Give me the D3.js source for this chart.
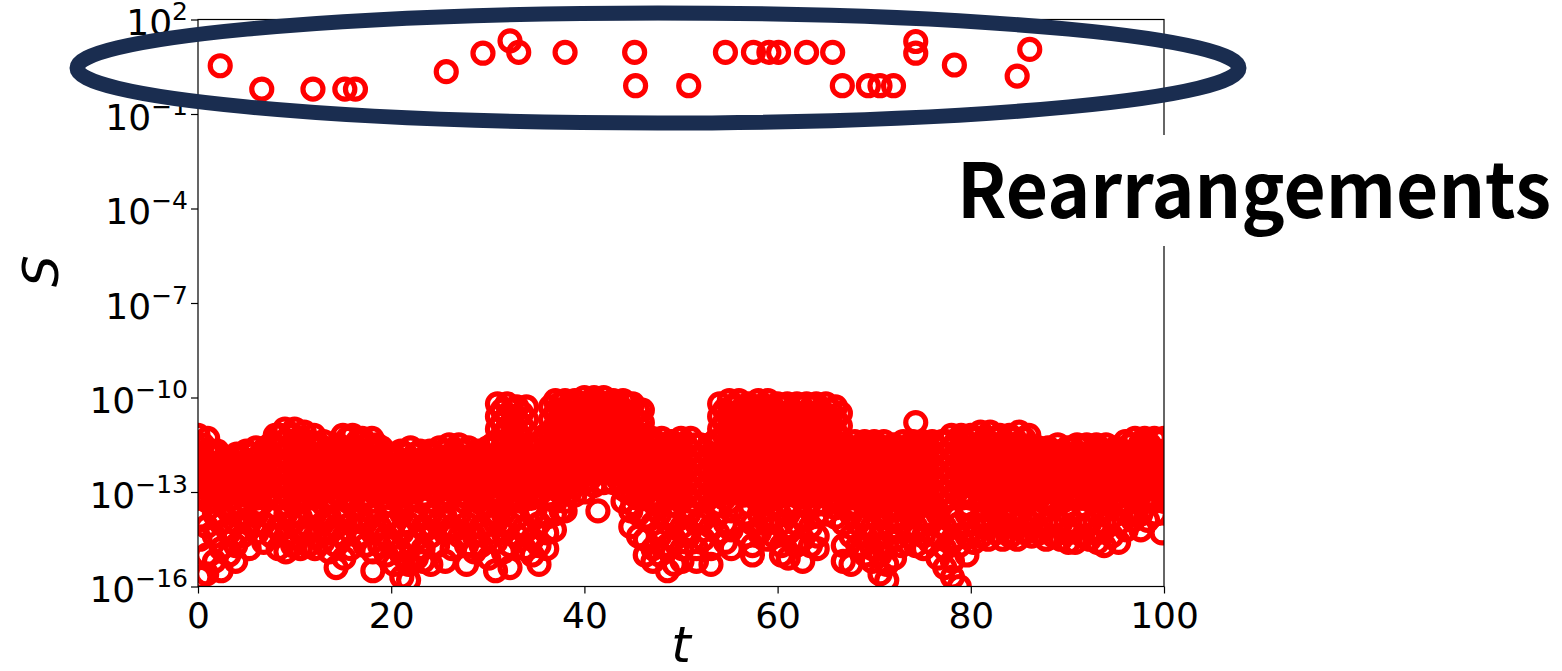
<!DOCTYPE html>
<html>
<head>
<meta charset="utf-8">
<script src="https://cdn.jsdelivr.net/npm/d3@7"></script>
<style>
  html, body { margin: 0; padding: 0; background: #fff; }
  svg { display: block; }
</style>
</head>
<body>
<svg id="chart" width="1562" height="671"></svg>
<script>
// ---------------- DATA ----------------
const xTicks = [0, 20, 40, 60, 80, 100];
const yTickExponents = [2, -1, -4, -7, -10, -13, -16];

// Rearrangement events (large S values)
const rearrT = [2.3, 6.6, 11.9, 15.2, 16.3, 25.7, 29.5, 32.3, 33.2, 38.0, 45.2, 45.3, 50.8,
                54.6, 57.5, 59.1, 60.1, 63.0, 65.7, 66.7, 69.4, 70.6, 72.0, 74.3, 74.3, 78.3, 84.8, 86.1];
const rearrS = [3.4, 0.62, 0.62, 0.62, 0.62, 2.2, 8.5, 21, 9.1, 9.1, 9.1, 0.79, 0.79,
                9.1, 9.1, 9.1, 9.1, 9.1, 9.1, 0.79, 0.79, 0.79, 0.79, 20, 8.5, 3.6, 1.6, 11.2];

// Isolated small-S points
const isolatedT = [74.3, 41.4];
const isolatedS = [1.6e-11, 2.5e-14];

// Dense cloud, upper part: [t, "n1 n2 ..."] where each S = 10^(-n)
const denseUpper = [
[0,"11.2 11.6 12.0 12.4 12.8 13.2"],[0.5,"11.5 11.9 12.3 12.7 13.1"],
[1,"11.3 11.7 12.1 12.5 12.9 13.3"],[1.5,"11.7 12.1 12.5 12.9 13.3"],
[2,"11.7 12.1 12.5 12.9 13.3"],[2.5,"12.0 12.4 12.8 13.2"],
[3,"11.9 12.3 12.7 13.1"],[3.5,"12.0 12.4 12.8 13.2"],
[4,"11.8 12.2 12.6 13.0 13.4"],[4.5,"11.9 12.3 12.7 13.1"],
[5,"11.7 12.1 12.5 12.9 13.3"],[5.5,"11.8 12.2 12.6 13.0"],
[6,"11.6 12.0 12.4 12.8 13.2"],[6.5,"11.8 12.2 12.6 13.0 13.4"],
[7,"11.6 12.0 12.4 12.8 13.2"],[7.5,"11.5 11.9 12.3 12.7 13.1"],
[8,"11.2 11.6 12.0 12.4 12.8 13.2"],[8.5,"11.2 11.6 12.0 12.4 12.8 13.2"],
[9,"11.0 11.4 11.8 12.2 12.6 13.0 13.4"],[9.5,"11.2 11.6 12.0 12.4 12.8 13.2"],
[10,"11.0 11.4 11.8 12.2 12.6 13.0 13.4"],[10.5,"11.3 11.7 12.1 12.5 12.9 13.3"],
[11,"11.1 11.5 11.9 12.3 12.7 13.1"],[11.5,"11.4 11.8 12.2 12.6 13.0"],
[12,"11.2 11.6 12.0 12.4 12.8 13.2"],[12.5,"11.5 11.9 12.3 12.7 13.1"],
[13,"11.4 11.8 12.2 12.6 13.0 13.4"],[13.5,"11.7 12.1 12.5 12.9 13.3"],
[14,"11.6 12.0 12.4 12.8 13.2"],[14.5,"11.5 11.9 12.3 12.7 13.1"],
[15,"11.2 11.6 12.0 12.4 12.8 13.2"],[15.5,"11.3 11.7 12.1 12.5 12.9 13.3"],
[16,"11.2 11.6 12.0 12.4 12.8 13.2"],[16.5,"11.4 11.8 12.2 12.6 13.0"],
[17,"11.3 11.7 12.1 12.5 12.9 13.3"],[17.5,"11.5 11.9 12.3 12.7 13.1"],
[18,"11.3 11.7 12.1 12.5 12.9 13.3"],[18.5,"11.5 11.9 12.3 12.7 13.1"],
[19,"11.6 12.0 12.4 12.8 13.2"],[19.5,"11.8 12.2 12.6 13.0 13.4"],
[20,"11.8 12.2 12.6 13.0 13.4"],[20.5,"11.9 12.3 12.7 13.1"],
[21,"11.7 12.1 12.5 12.9 13.3"],[21.5,"11.8 12.2 12.6 13.0"],
[22,"11.6 12.0 12.4 12.8 13.2"],[22.5,"11.8 12.2 12.6 13.0"],
[23,"11.7 12.1 12.5 12.9 13.3"],[23.5,"11.9 12.3 12.7 13.1"],
[24,"11.7 12.1 12.5 12.9 13.3"],[24.5,"11.8 12.2 12.6 13.0"],
[25,"11.6 12.0 12.4 12.8 13.2"],[25.5,"11.7 12.1 12.5 12.9 13.3"],
[26,"11.5 11.9 12.3 12.7 13.1"],[26.5,"11.7 12.1 12.5 12.9"],
[27,"11.5 11.9 12.3 12.7 13.1"],[27.5,"11.7 12.1 12.5 12.9 13.3"],
[28,"11.6 12.0 12.4 12.8 13.2"],[28.5,"11.8 12.2 12.6 13.0"],
[29,"11.7 12.1 12.5 12.9 13.3"],[29.5,"11.8 12.2 12.6 13.0 13.4"],
[30,"11.6 12.0 12.4 12.8 13.2"],[30.5,"11.5 11.9 12.3 12.7 13.1"],
[31,"10.2 10.6 11.0 11.4 11.8 12.2 12.6 13.0 13.4"],[31.5,"10.4 10.8 11.2 11.6 12.0 12.4 12.8 13.2"],
[32,"10.2 10.6 11.0 11.4 11.8 12.2 12.6 13.0 13.4"],[32.5,"10.4 10.8 11.2 11.6 12.0 12.4 12.8 13.2"],
[33,"10.3 10.7 11.1 11.5 11.9 12.3 12.7 13.1"],[33.5,"10.5 10.9 11.3 11.7 12.1 12.5 12.9 13.3"],
[34,"10.3 10.7 11.1 11.5 11.9 12.3 12.7 13.1"],[34.5,"11.6 12.0 12.4 12.8 13.2"],
[35,"11.5 11.9 12.3 12.7 13.1"],[35.5,"11.4 11.8 12.2 12.6 13.0"],
[36,"11.2 11.6 12.0 12.4 12.8 13.2"],[36.5,"10.3 10.7 11.1 11.5 11.9 12.3 12.7 13.1"],
[37,"10.1 10.5 10.9 11.3 11.7 12.1 12.5 12.9 13.3"],[37.5,"10.2 10.6 11.0 11.4 11.8 12.2 12.6 13.0"],
[38,"10.1 10.5 10.9 11.3 11.7 12.1 12.5 12.9 13.3 13.6"],[38.5,"10.2 10.6 11.0 11.4 11.8 12.2 12.6 13.0"],
[39,"10.1 10.5 10.9 11.3 11.7 12.1 12.5 12.8 13.1"],[39.5,"10.2 10.6 11.0 11.4 11.8 12.2 12.6"],
[40,"10.0 10.4 10.8 11.2 11.6 12.0 12.4 12.7 13.0"],[40.5,"10.2 10.6 11.0 11.4 11.8 12.2 12.6"],
[41,"10.0 10.4 10.8 11.2 11.6 12.0 12.4 12.8"],[41.5,"10.2 10.6 11.0 11.4 11.8 12.2"],
[42,"10.0 10.4 10.8 11.2 11.6 12.0 12.4 12.7"],[42.5,"10.2 10.6 11.0 11.4 11.8 12.2"],
[43,"10.1 10.5 10.9 11.3 11.7 12.1 12.4 12.7"],[43.5,"10.2 10.6 11.0 11.4 11.8 12.2 12.6"],
[44,"10.1 10.5 10.9 11.3 11.7 12.1 12.5 12.9 13.3"],[44.5,"10.2 10.6 11.0 11.4 11.8 12.2 12.6 13.0"],
[45,"10.2 10.6 11.0 11.4 11.8 12.2 12.6 13.0 13.4"],[45.5,"10.4 10.8 11.2 11.6 12.0 12.4 12.8 13.2"],
[46,"10.4 10.8 11.2 11.6 12.0 12.4 12.8 13.2"],[46.5,"11.4 11.8 12.2 12.6 13.0"],
[47,"11.3 11.7 12.1 12.5 12.9 13.3"],[47.5,"11.5 11.9 12.3 12.7 13.1"],
[48,"11.3 11.7 12.1 12.5 12.9 13.3"],[48.5,"11.5 11.9 12.3 12.7 13.1"],
[49,"11.4 11.8 12.2 12.6 13.0 13.4"],[49.5,"11.5 11.9 12.3 12.7 13.1"],
[50,"11.3 11.7 12.1 12.5 12.9 13.3"],[50.5,"11.5 11.9 12.3 12.7 13.1"],
[51,"11.3 11.7 12.1 12.5 12.9 13.3"],[51.5,"11.5 11.9 12.3 12.7 13.1"],
[52,"11.5 11.9 12.3 12.7 13.1"],[52.5,"11.7 12.1 12.5 12.9 13.3"],
[53,"11.5 11.9 12.3 12.7 13.1"],[53.5,"11.4 11.8 12.2 12.6 13.0"],
[54,"10.2 10.6 11.0 11.4 11.8 12.2 12.6 13.0 13.4"],[54.5,"10.4 10.8 11.2 11.6 12.0 12.4 12.8 13.2"],
[55,"10.1 10.5 10.9 11.3 11.7 12.1 12.5 12.9 13.3"],[55.5,"10.3 10.7 11.1 11.5 11.9 12.3 12.7"],
[56,"10.1 10.5 10.9 11.3 11.7 12.1 12.5 12.9"],[56.5,"10.3 10.7 11.1 11.5 11.9 12.3 12.7 13.1"],
[57,"10.2 10.6 11.0 11.4 11.8 12.2 12.6 13.0 13.4"],[57.5,"10.3 10.7 11.1 11.5 11.9 12.3 12.7 13.1"],
[58,"10.1 10.5 10.9 11.3 11.7 12.1 12.5 12.9 13.3"],[58.5,"10.3 10.7 11.1 11.5 11.9 12.3 12.7 13.1"],
[59,"10.1 10.5 10.9 11.3 11.7 12.1 12.5 12.9 13.3"],[59.5,"10.3 10.7 11.1 11.5 11.9 12.3 12.7 13.1"],
[60,"10.2 10.6 11.0 11.4 11.8 12.2 12.6 13.0 13.4"],[60.5,"10.3 10.7 11.1 11.5 11.9 12.3 12.7 13.1"],
[61,"10.2 10.6 11.0 11.4 11.8 12.2 12.6 13.0 13.4"],[61.5,"10.4 10.8 11.2 11.6 12.0 12.4 12.8"],
[62,"10.2 10.6 11.0 11.4 11.8 12.2 12.6 13.0 13.4"],[62.5,"10.3 10.7 11.1 11.5 11.9 12.3 12.7 13.1"],
[63,"10.2 10.6 11.0 11.4 11.8 12.2 12.6 13.0 13.4"],[63.5,"10.3 10.7 11.1 11.5 11.9 12.3 12.7 13.1"],
[64,"10.2 10.6 11.0 11.4 11.8 12.2 12.6 13.0 13.4"],[64.5,"10.4 10.8 11.2 11.6 12.0 12.4 12.8"],
[65,"10.2 10.6 11.0 11.4 11.8 12.2 12.6 13.0 13.4 13.7"],[65.5,"10.4 10.8 11.2 11.6 12.0 12.4 12.8 13.2"],
[66,"10.3 10.7 11.1 11.5 11.9 12.3 12.7 13.1 13.5 13.8"],[66.5,"10.5 10.9 11.3 11.7 12.1 12.5 12.9 13.3"],
[67,"11.5 11.9 12.3 12.7 13.1"],[67.5,"11.6 12.0 12.4 12.8 13.2"],
[68,"11.4 11.8 12.2 12.6 13.0 13.4"],[68.5,"11.6 12.0 12.4 12.8 13.2"],
[69,"11.4 11.8 12.2 12.6 13.0 13.4"],[69.5,"11.6 12.0 12.4 12.8 13.2"],
[70,"11.4 11.8 12.2 12.6 13.0 13.4"],[70.5,"11.6 12.0 12.4 12.8 13.2"],
[71,"11.4 11.8 12.2 12.6 13.0 13.4"],[71.5,"11.6 12.0 12.4 12.8 13.2"],
[72,"11.5 11.9 12.3 12.7 13.1"],[72.5,"11.6 12.0 12.4 12.8 13.2"],
[73,"11.4 11.8 12.2 12.6 13.0 13.4"],[73.5,"11.6 12.0 12.4 12.8 13.2"],
[74,"11.4 11.8 12.2 12.6 13.0 13.4"],[74.5,"11.6 12.0 12.4 12.8 13.2"],
[75,"11.4 11.8 12.2 12.6 13.0 13.4"],[75.5,"11.6 12.0 12.4 12.8 13.2"],
[76,"11.4 11.8 12.2 12.6 13.0 13.4"],[76.5,"11.6 12.0 12.4 12.8 13.2"],
[77,"11.4 11.8 12.2 12.6 13.0 13.4"],[77.5,"11.4 11.8 12.2 12.6 13.0"],
[78,"11.2 11.6 12.0 12.4 12.8 13.2"],[78.5,"11.4 11.8 12.2 12.6 13.0"],
[79,"11.2 11.6 12.0 12.4 12.8 13.2"],[79.5,"11.4 11.8 12.2 12.6 13.0"],
[80,"11.2 11.6 12.0 12.4 12.8 13.2"],[80.5,"11.3 11.7 12.1 12.5 12.9"],
[81,"11.1 11.5 11.9 12.3 12.7 13.1"],[81.5,"11.3 11.7 12.1 12.5 12.9 13.3"],
[82,"11.1 11.5 11.9 12.3 12.7 13.1"],[82.5,"11.3 11.7 12.1 12.5 12.9 13.3"],
[83,"11.2 11.6 12.0 12.4 12.8 13.2"],[83.5,"11.4 11.8 12.2 12.6 13.0"],
[84,"11.2 11.6 12.0 12.4 12.8 13.2"],[84.5,"11.3 11.7 12.1 12.5 12.9 13.3"],
[85,"11.1 11.5 11.9 12.3 12.7 13.1"],[85.5,"11.3 11.7 12.1 12.5 12.9 13.3"],
[86,"11.2 11.6 12.0 12.4 12.8 13.2"],[86.5,"11.6 12.0 12.4 12.8 13.2"],
[87,"11.6 12.0 12.4 12.8 13.2"],[87.5,"11.7 12.1 12.5 12.9 13.3"],
[88,"11.6 12.0 12.4 12.8 13.2"],[88.5,"11.7 12.1 12.5 12.9 13.3"],
[89,"11.5 11.9 12.3 12.7 13.1"],[89.5,"11.7 12.1 12.5 12.9 13.3"],
[90,"11.6 12.0 12.4 12.8 13.2"],[90.5,"11.6 12.0 12.4 12.8 13.2"],
[91,"11.5 11.9 12.3 12.7 13.1"],[91.5,"11.6 12.0 12.4 12.8 13.2"],
[92,"11.5 11.9 12.3 12.7 13.1"],[92.5,"11.7 12.1 12.5 12.9 13.3"],
[93,"11.5 11.9 12.3 12.7 13.1"],[93.5,"11.7 12.1 12.5 12.9 13.3"],
[94,"11.5 11.9 12.3 12.7 13.1"],[94.5,"11.7 12.1 12.5 12.9 13.3"],
[95,"11.6 12.0 12.4 12.8 13.2"],[95.5,"11.7 12.1 12.5 12.9 13.3"],
[96,"11.4 11.8 12.2 12.6 13.0 13.4"],[96.5,"11.5 11.9 12.3 12.7 13.1"],
[97,"11.3 11.7 12.1 12.5 12.9 13.3"],[97.5,"11.5 11.9 12.3 12.7 13.1"],
[98,"11.3 11.7 12.1 12.5 12.9 13.3"],[98.5,"11.5 11.9 12.3 12.7 13.1"],
[99,"11.3 11.7 12.1 12.5 12.9 13.3"],[99.5,"11.4 11.8 12.2 12.6 13.0"],
[100,"11.3 11.7 12.1 12.5 12.9 13.3"]
];

// Dense cloud, lower scattered part: [t, "n1 n2 ..."] where each S = 10^(-n)
const denseLower = [
[0.2,"13.8 14.5 15.7"],[0.9,"14.1 15.0 15.6"],[1.7,"13.7 14.4 15.2"],[2.4,"14.0 14.8 15.5"],
[3.2,"13.6 14.3 15.0"],[3.9,"14.0 14.7 15.2"],[4.6,"13.7 14.4"],[5.3,"14.0 14.8"],
[6.1,"13.7 14.3"],[6.8,"14.0 14.6"],[7.6,"13.8 14.4"],[8.3,"14.1 14.8"],
[9.1,"13.7 14.4 14.9"],[9.8,"14.0 14.7"],[10.6,"13.8 14.3 14.8"],[11.4,"14.1 14.7"],
[12.1,"13.7 14.4 14.8"],[12.9,"14.0 14.6"],[13.6,"13.8 14.3 14.9"],[14.3,"14.1 14.7 15.4"],
[15.1,"13.7 14.4 15.1"],[15.8,"14.0 14.8"],[16.6,"13.8 14.4"],[17.3,"14.0 14.7"],
[18.1,"13.7 14.3 14.9 15.5"],[18.8,"14.1 14.7"],[19.5,"13.8 14.4 15.0"],[20.3,"14.0 14.7 15.3"],
[21.1,"13.7 14.3 15.0 15.7"],[21.8,"14.0 14.6 15.3 15.8"],[22.6,"13.8 14.5 15.1"],[23.3,"14.1 14.8 15.2"],
[24.1,"13.7 14.4 15.3"],[24.8,"14.0 14.7"],[25.6,"13.8 14.3 15.2"],[26.3,"14.1 14.8"],
[27.1,"13.7 14.4"],[27.8,"14.0 14.7 15.3"],[28.6,"13.8 14.4 14.9"],[29.3,"14.1 14.7"],
[30.1,"13.7 14.3 15.1"],[30.8,"14.0 14.6 15.5"],[31.6,"13.7 14.3 14.9"],[32.3,"14.0 14.7 15.4"],
[33.1,"13.8 14.4"],[33.8,"14.1 14.8"],[34.6,"13.7 14.5 15.0"],[35.3,"14.0 14.7 15.3"],
[36.1,"13.8 14.3 14.8"],[36.9,"13.7 14.2"],[37.6,"13.6"],
[44.8,"13.6 14.1"],[45.6,"13.7 14.4"],[46.3,"13.8 14.5 15.0"],[47.1,"14.0 14.8 15.2"],
[47.8,"13.7 14.4 15.0"],[48.6,"14.0 14.7 15.5"],[49.3,"13.8 14.5 15.3"],[50.1,"14.1 14.8 15.2"],
[50.8,"13.7 14.4"],[51.6,"14.0 14.8 15.2"],[52.3,"13.8 14.5"],[53.1,"14.1 14.8 15.3"],
[53.8,"13.7 14.3"],[54.6,"14.0 14.6"],[55.2,"13.6 14.2 14.8"],[56.7,"13.7 14.4"],
[57.4,"14.0 14.7 15.0"],[58.1,"13.7 14.3"],[58.9,"14.0 14.5"],[59.6,"13.8 14.4"],
[60.4,"14.0 14.7 15.0"],[61.1,"13.7 14.3 15.1"],[61.9,"14.0 14.7"],[62.6,"13.8 14.5 15.2"],
[63.4,"14.1 14.7"],[64.1,"13.7 14.4 14.8"],[66.8,"14.0 14.7 15.2"],[67.6,"13.7 14.4 15.3"],
[68.3,"14.0 14.7"],[69.1,"13.8 14.4 15.0"],[69.8,"14.1 14.8 15.2"],[70.6,"13.7 14.4 15.0 15.6"],
[71.3,"14.0 14.7 15.3 15.8"],[72.1,"13.8 14.5 15.1"],[72.8,"14.0 14.7"],[73.6,"13.7 14.4"],
[74.3,"14.1 14.7"],[75.1,"13.8 14.4 14.8"],[75.8,"14.0 14.6"],[76.6,"13.7 14.4 15.1"],
[77.3,"14.1 14.8 15.4"],[78.1,"13.8 14.5 15.2 15.7"],[78.8,"14.0 14.7 16.0"],[79.6,"13.7 14.4 15.0"],
[80.3,"14.0 14.6"],[81.1,"13.8 14.4"],[81.8,"14.0 14.5"],[82.6,"13.7 14.3"],
[83.3,"14.0 14.5"],[84.1,"13.7 14.4"],[84.8,"14.0 14.5"],[85.6,"13.8 14.3"],
[86.3,"14.0 14.4"],[87.1,"13.7 14.3"],[87.8,"14.0 14.5"],[88.6,"13.8 14.4"],
[89.3,"14.0 14.5"],[90.1,"13.7 14.3 14.6"],[90.8,"14.0 14.6"],[91.6,"13.8 14.4"],
[92.3,"14.0 14.5"],[93.1,"13.7 14.3 14.6"],[93.8,"14.0 14.7"],[94.6,"13.8 14.4"],
[95.3,"14.0 14.6"],[96.1,"13.7 14.2"],[96.8,"13.9"],[97.6,"13.7 14.2"],
[98.3,"13.9"],[99.1,"13.7"],[99.8,"14.3"]
];

const annotationText = "Rearrangements";

// ---------------- CHART ----------------
const svg = d3.select("#chart");
const plot = { left: 198, right: 1164, top: 19.5, bottom: 586.5 };

const x = d3.scaleLinear().domain([0, 100]).range([plot.left, plot.right]);
const y = d3.scaleLog().domain([1e-16, 1e2]).range([plot.bottom, plot.top]);

svg.append("defs").append("clipPath").attr("id", "plotClip")
  .append("rect")
  .attr("x", plot.left).attr("y", plot.top)
  .attr("width", plot.right - plot.left).attr("height", plot.bottom - plot.top);

const densePts = [];
[denseUpper, denseLower].forEach(cols => cols.forEach(([t, str]) => {
  str.trim().split(/\s+/).forEach(v => densePts.push({ t: t, s: Math.pow(10, -parseFloat(v)) }));
}));
isolatedT.forEach((t, i) => densePts.push({ t: t, s: isolatedS[i] }));
const rearrPts = rearrT.map((t, i) => ({ t: t, s: rearrS[i] }));

const markerR = 10, markerW = 5.2, red = "#ff0000";

const gPts = svg.append("g").attr("clip-path", "url(#plotClip)");
gPts.selectAll("circle.pt").data(densePts.concat(rearrPts)).join("circle")
  .attr("class", "pt")
  .attr("cx", d => x(d.t)).attr("cy", d => y(d.s)).attr("r", markerR)
  .attr("fill", "none").attr("stroke", red).attr("stroke-width", markerW);

// Spines
svg.append("rect")
  .attr("x", plot.left).attr("y", plot.top)
  .attr("width", plot.right - plot.left).attr("height", plot.bottom - plot.top)
  .attr("fill", "none").attr("stroke", "#000").attr("stroke-width", 1.2);

const tickFont = "DejaVu Sans, Liberation Sans, sans-serif";

// X axis
const xAxis = d3.axisBottom(x).tickValues(xTicks).tickSize(7).tickPadding(4).tickFormat(d3.format("d"));
const gx = svg.append("g").attr("transform", `translate(0,${plot.bottom})`).call(xAxis);
gx.select(".domain").remove();
gx.selectAll(".tick line").attr("stroke", "#000").attr("stroke-width", 1.2);
gx.selectAll(".tick text")
  .attr("font-family", tickFont).attr("font-size", 36).attr("fill", "#000")
  .attr("dy", null).attr("y", 41);

// Y axis
const yAxis = d3.axisLeft(y).tickValues(yTickExponents.map(e => Math.pow(10, e))).tickSize(7).tickFormat(() => "");
const gy = svg.append("g").attr("transform", `translate(${plot.left},0)`).call(yAxis);
gy.select(".domain").remove();
gy.selectAll(".tick line").attr("stroke", "#000").attr("stroke-width", 1.2);
gy.selectAll(".tick text").each(function(d) {
  const e = Math.round(Math.log10(d));
  const t = d3.select(this)
    .attr("font-family", tickFont).attr("fill", "#000")
    .attr("text-anchor", "end").attr("x", -10).attr("dy", null).attr("y", 15);
  t.append("tspan").attr("font-size", 36).text("10");
  t.append("tspan").attr("font-size", 25).attr("dy", -15).text(e < 0 ? "\u2212" + (-e) : String(e));
});

// Axis labels
svg.append("text")
  .attr("x", x(50)).attr("y", 662)
  .attr("text-anchor", "middle")
  .attr("font-family", tickFont).attr("font-style", "italic").attr("font-size", 50)
  .attr("fill", "#000").text("t");
svg.append("text")
  .attr("transform", "translate(58,271) rotate(-90)")
  .attr("text-anchor", "middle")
  .attr("font-family", tickFont).attr("font-style", "italic").attr("font-size", 50)
  .attr("fill", "#000").text("S");

// Annotation: ellipse around rearrangements
svg.append("ellipse")
  .attr("cx", 658).attr("cy", 68).attr("rx", 581).attr("ry", 55)
  .attr("fill", "none").attr("stroke", "#1a2d50").attr("stroke-width", 15);

// Annotation label with white background
svg.append("rect").attr("x", 945).attr("y", 135).attr("width", 617).attr("height", 111).attr("fill", "#fff");
svg.append("text")
  .attr("x", 957).attr("y", 218)
  .attr("font-family", "'Noto Sans CJK JP', 'Noto Sans', sans-serif")
  .attr("font-weight", 700).attr("font-size", 76)
  .attr("textLength", 594).attr("lengthAdjust", "spacingAndGlyphs")
  .attr("fill", "#000").text(annotationText);
</script>
</body>
</html>
